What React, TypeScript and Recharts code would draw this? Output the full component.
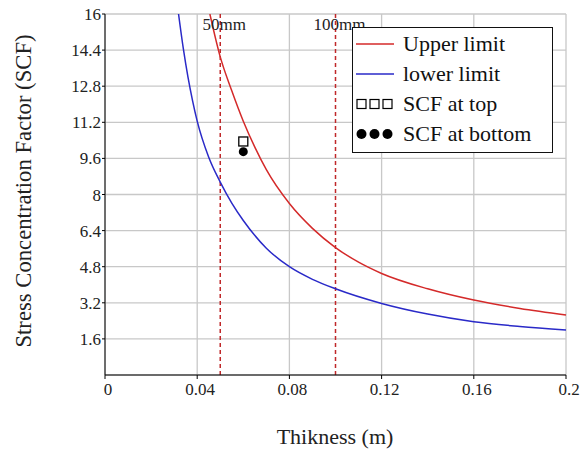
import { CartesianGrid, ComposedChart, Legend, Line, ReferenceLine, Scatter, XAxis, YAxis } from "recharts";

// values
const upperThickness = [0.0455, 0.05, 0.055, 0.06, 0.065, 0.07, 0.08, 0.09, 0.1, 0.11, 0.12, 0.14, 0.16, 0.18, 0.2];
const upperScf = [16, 14.1, 12.6, 11.25, 10.1, 9.1, 7.6, 6.5, 5.65, 5.0, 4.5, 3.82, 3.32, 2.95, 2.66];
const lowerThickness = [0.0319, 0.034, 0.036, 0.038, 0.04, 0.045, 0.05, 0.055, 0.06, 0.07, 0.08, 0.09, 0.1, 0.12, 0.14, 0.16, 0.18, 0.2];
const lowerScf = [16, 14.45, 13.2, 12.15, 11.25, 9.65, 8.55, 7.62, 6.85, 5.62, 4.8, 4.24, 3.82, 3.17, 2.7, 2.36, 2.15, 1.99];
const scfTop = [{ x: 0.06, y: 10.35 }];
const scfBottom = [{ x: 0.06, y: 9.9 }];
const xTicks = [0, 0.04, 0.08, 0.12, 0.16, 0.2];
const yTicks = [1.6, 3.2, 4.8, 6.4, 8, 9.6, 11.2, 12.8, 14.4, 16];
const markLines = [
  { x: 0.05, label: "50mm" },
  { x: 0.1, label: "100mm" },
];

const upperData = upperThickness.map((x, i) => ({ x, y: upperScf[i] }));
const lowerData = lowerThickness.map((x, i) => ({ x, y: lowerScf[i] }));

const SERIF = '"Liberation Serif", "DejaVu Serif", serif';
const RED = "#d42a2a";
const BLUE = "#2a2ac8";

function SquareMark(props: any) {
  const { cx, cy } = props;
  return <rect x={cx - 4.5} y={cy - 4.5} width={9} height={9} fill="#fff" stroke="#000" strokeWidth={1.3} />;
}

function DotMark(props: any) {
  const { cx, cy } = props;
  return <circle cx={cx} cy={cy} r={4.5} fill="#000" />;
}

function LegendIcon({ kind, color }: { kind: string; color?: string }) {
  return (
    <svg width={40} height={14} style={{ marginRight: 8 }}>
      {kind === "line" && <line x1={1} y1={7} x2={39} y2={7} stroke={color} strokeWidth={1.5} />}
      {kind === "square" &&
        [0, 13, 26].map((dx) => (
          <rect key={dx} x={dx + 2} y={2.5} width={9} height={9} fill="#fff" stroke="#000" strokeWidth={1.2} />
        ))}
      {kind === "dot" && [0, 13, 26].map((dx) => <circle key={dx} cx={dx + 6.5} cy={7} r={5} fill="#000" />)}
    </svg>
  );
}

function LegendBox() {
  const rows = [
    { kind: "line", color: RED, name: "Upper limit" },
    { kind: "line", color: BLUE, name: "lower limit" },
    { kind: "square", name: "SCF at top" },
    { kind: "dot", name: "SCF at bottom" },
  ];
  return (
    <div
      style={{
        width: 199,
        height: 123,
        border: "1px solid #111",
        background: "#fff",
        fontFamily: SERIF,
        fontSize: 22,
        color: "#111",
        paddingTop: 1,
        boxSizing: "content-box",
      }}
    >
      {rows.map((r) => (
        <div key={r.name} style={{ display: "flex", alignItems: "center", height: 30, paddingLeft: 2 }}>
          <LegendIcon kind={r.kind} color={r.color} />
          <span style={{ lineHeight: "30px" }}>{r.name}</span>
        </div>
      ))}
    </div>
  );
}

export default function App() {
  return (
    <div style={{ position: "absolute", left: 0, top: 0, width: 581, height: 452, background: "#fff" }}>
      <ComposedChart width={581} height={452} margin={{ top: 14, right: 15, left: 45, bottom: 47 }}>
        <CartesianGrid stroke="#c8c8c8" strokeWidth={1.3} />
        <XAxis
          dataKey="x"
          type="number"
          domain={[0, 0.2]}
          ticks={xTicks}
          height={30}
          tickSize={4}
          tickMargin={4}
          stroke="#000"
          tick={{ fontFamily: SERIF, fontSize: 17, fill: "#222", dx: 3 }}
          tickFormatter={(v: number) => String(v)}
        />
        <YAxis
          type="number"
          domain={[0, 16]}
          ticks={yTicks}
          width={60}
          tickSize={3}
          tickMargin={1}
          stroke="#000"
          allowDataOverflow
          tick={{ fontFamily: SERIF, fontSize: 17, fill: "#222" }}
        />
        {markLines.map((m) => (
          <ReferenceLine
            key={m.label}
            x={m.x}
            stroke="#c0282a"
            strokeWidth={1.5}
            strokeDasharray="4 3"
            label={{
              value: m.label,
              position: "insideTop",
              offset: 4,
              dx: 4,
              fontFamily: SERIF,
              fontSize: 17,
              fill: "#222",
            }}
          />
        ))}
        <Line
          data={upperData}
          dataKey="y"
          name="Upper limit"
          type="monotone"
          stroke={RED}
          strokeWidth={1.5}
          dot={false}
          isAnimationActive={false}
        />
        <Line
          data={lowerData}
          dataKey="y"
          name="lower limit"
          type="monotone"
          stroke={BLUE}
          strokeWidth={1.5}
          dot={false}
          isAnimationActive={false}
        />
        <Scatter data={scfTop} dataKey="y" name="SCF at top" shape={SquareMark} isAnimationActive={false} />
        <Scatter data={scfBottom} dataKey="y" name="SCF at bottom" shape={DotMark} isAnimationActive={false} />
        <Legend
          layout="vertical"
          align="center"
          verticalAlign="middle"
          content={() => <LegendBox />}
          wrapperStyle={{ left: 352, top: 27, width: 201 }}
        />
      </ComposedChart>
      <div
        style={{
          position: "absolute",
          left: 24,
          top: 191,
          transform: "translate(-50%, -50%) rotate(-90deg)",
          whiteSpace: "nowrap",
          fontFamily: SERIF,
          fontSize: 22.7,
          color: "#222",
        }}
      >
        Stress Concentration Factor (SCF)
      </div>
      <div
        style={{
          position: "absolute",
          left: 335,
          top: 437,
          transform: "translate(-50%, -50%)",
          whiteSpace: "nowrap",
          fontFamily: SERIF,
          fontSize: 22,
          color: "#222",
        }}
      >
        Thikness (m)
      </div>
    </div>
  );
}
